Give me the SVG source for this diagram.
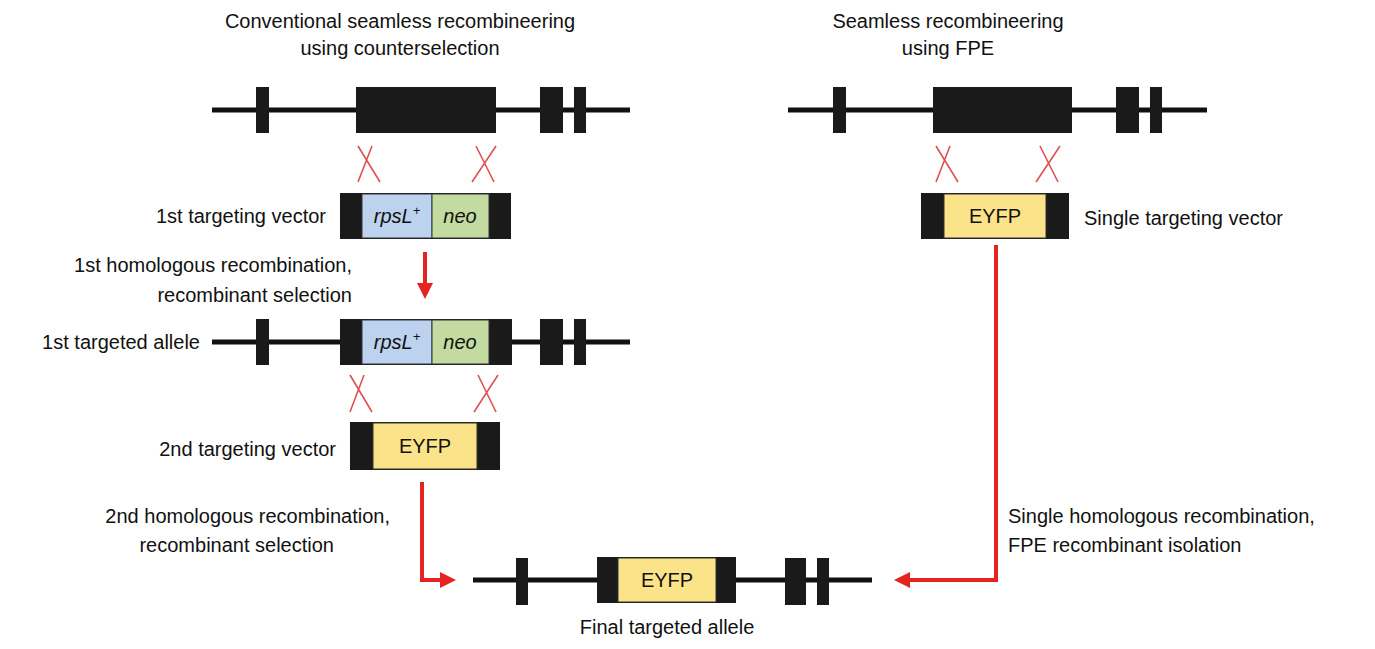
<svg xmlns="http://www.w3.org/2000/svg" width="1375" height="649" viewBox="0 0 1375 649">
<defs>
<style>
text{font-family:"Liberation Sans",Arial,sans-serif;font-size:20px;fill:#111}
.ln{stroke:#111;stroke-width:5}
.ex{fill:#1a1a1a}
.x{stroke:#e05050;stroke-width:1.6;fill:none}
.r{stroke:#e52421;stroke-width:4;fill:none}
.bl{fill:#bcd2ee;stroke:#333;stroke-width:1}
.gr{fill:#c3dba0;stroke:#333;stroke-width:1}
.ye{fill:#fbe38a;stroke:#333;stroke-width:1}
</style>
<marker id="ah" markerWidth="4" markerHeight="4" refX="3" refY="2" orient="auto" markerUnits="strokeWidth"><path d="M0,0L4,2L0,4z" fill="#e52421"/></marker>
</defs>
<rect width="1375" height="649" fill="#fff"/>
<text x="400" y="28" text-anchor="middle">Conventional seamless recombineering</text>
<text x="400" y="55" text-anchor="middle">using counterselection</text>
<text x="948" y="28" text-anchor="middle">Seamless recombineering</text>
<text x="948" y="55" text-anchor="middle">using FPE</text>

<g id="gene-left">
<line class="ln" x1="212" y1="110" x2="630" y2="110"/>
<rect class="ex" x="256" y="87" width="13" height="46"/>
<rect class="ex" x="356" y="87" width="140" height="46"/>
<rect class="ex" x="540" y="87" width="23" height="46"/>
<rect class="ex" x="574" y="87" width="12" height="46"/>
</g>
<g id="gene-right">
<line class="ln" x1="788" y1="110" x2="1207" y2="110"/>
<rect class="ex" x="833" y="87" width="13" height="46"/>
<rect class="ex" x="933" y="87" width="139" height="46"/>
<rect class="ex" x="1116" y="87" width="23" height="46"/>
<rect class="ex" x="1150" y="87" width="12" height="46"/>
</g>

<g id="crosses">
<path class="x" d="M358,146L380,182M372,146L358,182"/>
<path class="x" d="M476,146L494,182M496,146L472,182"/>
<path class="x" d="M350,375L372,412M364,375L350,412"/>
<path class="x" d="M478,375L496,412M498,375L474,412"/>
<path class="x" d="M936,146L958,182M950,146L936,182"/>
<path class="x" d="M1040,146L1058,182M1060,146L1036,182"/>
</g>

<g id="vector1">
<rect class="ex" x="340" y="193" width="171" height="46"/>
<rect class="bl" x="362" y="194" width="70" height="44"/>
<rect class="gr" x="432" y="194" width="57" height="44"/>
<text x="397" y="223" text-anchor="middle" font-style="italic">rpsL<tspan dy="-8" font-size="13">+</tspan></text>
<text x="460" y="223" text-anchor="middle" font-style="italic">neo</text>
</g>
<text x="326" y="223" text-anchor="end">1st targeting vector</text>
<text x="352" y="272" text-anchor="end">1st homologous recombination,</text>
<text x="352" y="302" text-anchor="end">recombinant selection</text>

<g id="allele1">
<line class="ln" x1="212" y1="342" x2="630" y2="342"/>
<rect class="ex" x="256" y="319" width="13" height="46"/>
<rect class="ex" x="340" y="319" width="172" height="46"/>
<rect class="bl" x="362" y="320" width="70" height="44"/>
<rect class="gr" x="432" y="320" width="57" height="44"/>
<text x="397" y="349" text-anchor="middle" font-style="italic">rpsL<tspan dy="-8" font-size="13">+</tspan></text>
<text x="460" y="349" text-anchor="middle" font-style="italic">neo</text>
<rect class="ex" x="540" y="319" width="23" height="46"/>
<rect class="ex" x="574" y="319" width="12" height="46"/>
</g>
<text x="200" y="349" text-anchor="end">1st targeted allele</text>

<g id="vector2">
<rect class="ex" x="350" y="422" width="150" height="48"/>
<rect class="ye" x="373" y="423" width="104" height="46"/>
<text x="425" y="453" text-anchor="middle">EYFP</text>
</g>
<text x="336" y="456" text-anchor="end">2nd targeting vector</text>
<text x="390" y="523" text-anchor="end">2nd homologous recombination,</text>
<text x="334" y="552" text-anchor="end">recombinant selection</text>

<g id="vector-single">
<rect class="ex" x="921" y="193" width="148" height="46"/>
<rect class="ye" x="944" y="194" width="102" height="44"/>
<text x="995" y="223" text-anchor="middle">EYFP</text>
</g>
<text x="1084" y="225">Single targeting vector</text>

<g id="final">
<line class="ln" x1="473" y1="580" x2="872" y2="580"/>
<rect class="ex" x="516" y="558" width="12" height="47"/>
<rect class="ex" x="597" y="557" width="139" height="46"/>
<rect class="ye" x="618" y="558" width="98" height="44"/>
<text x="667" y="587" text-anchor="middle">EYFP</text>
<rect class="ex" x="785" y="558" width="21" height="47"/>
<rect class="ex" x="817" y="558" width="12" height="47"/>
</g>
<text x="667" y="634" text-anchor="middle">Final targeted allele</text>
<text x="1008" y="523">Single homologous recombination,</text>
<text x="1008" y="552">FPE recombinant isolation</text>

<g id="connectors">
<line class="r" x1="425" y1="252" x2="425" y2="295" marker-end="url(#ah)"/>
<polyline class="r" points="422,482 422,580 452,580" marker-end="url(#ah)"/>
<polyline class="r" points="996,245 996,580 898,580" marker-end="url(#ah)"/>
</g>
</svg>
